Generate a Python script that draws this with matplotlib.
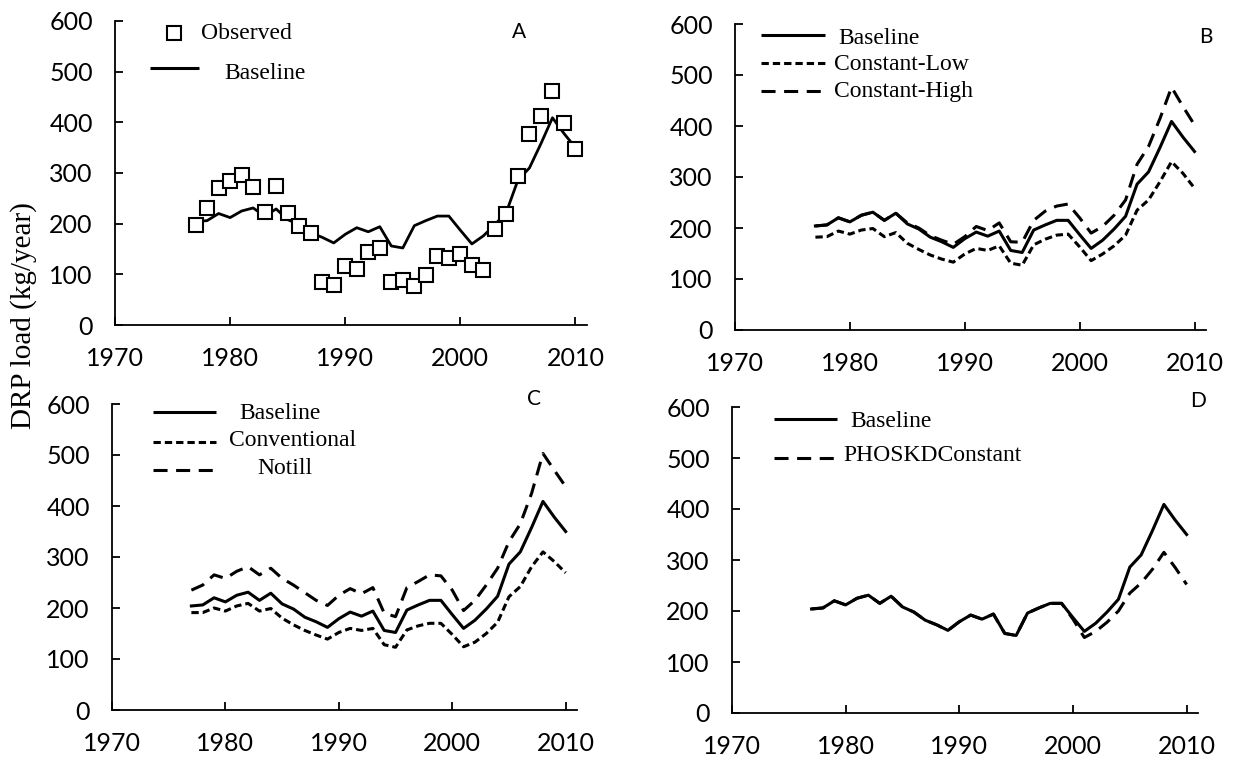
"""Four-panel DRP load comparison (A: observed vs baseline, B-D: scenarios)."""
import matplotlib
matplotlib.use("Agg")
import matplotlib.pyplot as plt
import numpy as np

years = np.arange(1977, 2011)

observed = [198, 231, 271, 284, 296, 273, 223, 275, 222, 196, 181, 85, 79, 117,
            111, 145, 152, 85, 89, 77, 99, 136, 132, 140, 118, 108, 189, 219,
            294, 376, 413, 462, 398, 348]

baseline = [204, 206, 220, 212, 225, 231, 215, 229, 208, 198, 182, 173, 162, 179,
            192, 184, 194, 156, 152, 196, 206, 215, 215, 187, 160, 176, 198, 223,
            286, 310, 358, 409, 378, 350]

constant_low = [182, 183, 194, 188, 196, 199, 183, 191, 170, 158, 147, 139, 133, 149,
                160, 156, 165, 131, 127, 167, 178, 186, 188, 163, 136, 149, 165, 186,
                235, 255, 291, 330, 307, 278]

constant_high = [204, 206, 220, 212, 225, 231, 215, 229, 210, 200, 185, 176, 168, 183,
                 203, 195, 210, 173, 172, 215, 233, 243, 247, 220, 190, 203, 225, 255,
                 325, 360, 415, 476, 438, 402]

conventional = [191, 191, 200, 194, 204, 209, 194, 199, 180, 167, 156, 147, 139, 152,
                160, 156, 160, 128, 123, 157, 165, 170, 170, 148, 124, 133, 150, 172,
                222, 242, 281, 310, 291, 269]

notill = [235, 245, 265, 258, 272, 281, 265, 278, 258, 245, 230, 215, 205, 225,
          238, 228, 240, 190, 183, 240, 252, 265, 263, 235, 195, 215, 245, 278,
          330, 365, 425, 503, 470, 438]

phoskd_constant = [204, 206, 220, 212, 225, 231, 215, 229, 208, 198, 182, 173, 162, 179,
                   192, 184, 194, 156, 152, 196, 206, 215, 215, 184, 148, 160, 178, 200,
                   235, 255, 282, 315, 285, 252]

x_ticks = [1970, 1980, 1990, 2000, 2010]
y_ticks = [0, 100, 200, 300, 400, 500, 600]

# styling
LW = 2.2
SHORT_DASH = (2.4, 1.3)
LONG_DASH = (4.6, 2.8)
SERIF = "Liberation Serif"
SANS = "Lato"
LEGEND_SIZE = 17

W, H = 1246, 759


def _axes(fig, left, top, right, bottom):
    return fig.add_axes([left / W, 1 - bottom / H, (right - left) / W, (bottom - top) / H])


def _style(ax):
    ax.set_xlim(1970, 2011)
    ax.set_ylim(0, 600)
    ax.set_xticks(x_ticks)
    ax.set_yticks(y_ticks)
    for side in ("top", "right"):
        ax.spines[side].set_visible(False)
    for side in ("left", "bottom"):
        ax.spines[side].set_linewidth(1.3)
    ax.tick_params(direction="in", length=6, width=1.3, pad=16,
                   labelsize=18, labelfontfamily=SANS)


def _legend_line(ax, x0, x1, y, text, tx, ty, dashes=None):
    kw = dict(color="black", lw=LW, clip_on=False, solid_capstyle="butt")
    if dashes is not None:
        kw.update(dashes=dashes, dash_capstyle="butt")
    ax.plot([x0, x1], [y, y], **kw)
    ax.text(tx, ty, text, family=SERIF, fontsize=LEGEND_SIZE, va="center", ha="left")


def _panel_label(ax, x, y, s):
    ax.text(x, y, s, family=SANS, fontsize=15, ha="center", va="center")


fig = plt.figure(figsize=(W / 100, H / 100), dpi=100)

# A
ax = _axes(fig, 115, 21, 587, 325)
_style(ax)
ax.plot(years, baseline, color="black", lw=2.0)
ax.plot(years, observed, "s", mfc="white", mec="black", ms=9.5, mew=1.5)
ax.plot([1975.1], [576], "s", mfc="white", mec="black", ms=9.5, mew=1.5, clip_on=False)
ax.text(1977.5, 576, "Observed", family=SERIF, fontsize=LEGEND_SIZE, va="center")
_legend_line(ax, 1973.0, 1977.3, 507, "Baseline", 1979.5, 497)
_panel_label(ax, 2005.1, 578, "A")

# B
ax = _axes(fig, 735, 24, 1206, 330)
_style(ax)
ax.plot(years, constant_high, color="black", lw=LW, dashes=LONG_DASH)
ax.plot(years, constant_low, color="black", lw=LW, dashes=SHORT_DASH)
ax.plot(years, baseline, color="black", lw=LW)
_legend_line(ax, 1972.3, 1977.8, 578, "Baseline", 1979.0, 571)
_legend_line(ax, 1972.3, 1977.8, 523, "Constant-Low", 1978.6, 521, SHORT_DASH)
_legend_line(ax, 1972.3, 1977.8, 469, "Constant-High", 1978.6, 467, LONG_DASH)
_panel_label(ax, 2011, 575, "B")

# C
ax = _axes(fig, 112, 404, 577, 710)
_style(ax)
ax.plot(years, notill, color="black", lw=LW, dashes=LONG_DASH)
ax.plot(years, conventional, color="black", lw=LW, dashes=SHORT_DASH)
ax.plot(years, baseline, color="black", lw=LW)
_legend_line(ax, 1973.6, 1979.2, 584, "Baseline", 1981.2, 582)
_legend_line(ax, 1973.6, 1979.2, 525, "Conventional", 1980.3, 529, SHORT_DASH)
_legend_line(ax, 1973.6, 1979.2, 471, "Notill", 1982.8, 473, LONG_DASH)
_panel_label(ax, 2007.2, 610, "C")

# D
ax = _axes(fig, 732, 407, 1198, 713)
_style(ax)
ax.plot(years, phoskd_constant, color="black", lw=LW, dashes=LONG_DASH)
ax.plot(years, baseline, color="black", lw=LW)
_legend_line(ax, 1973.7, 1979.2, 576, "Baseline", 1980.4, 571)
_legend_line(ax, 1973.7, 1979.2, 500, "PHOSKDConstant", 1979.8, 504, LONG_DASH)
_panel_label(ax, 2011, 612, "D")

fig.text(24 / W, 1 - 316 / H, "DRP load (kg/year)", family=SERIF, fontsize=21,
         rotation=90, ha="center", va="center")

fig.savefig("out.png", dpi=100)
